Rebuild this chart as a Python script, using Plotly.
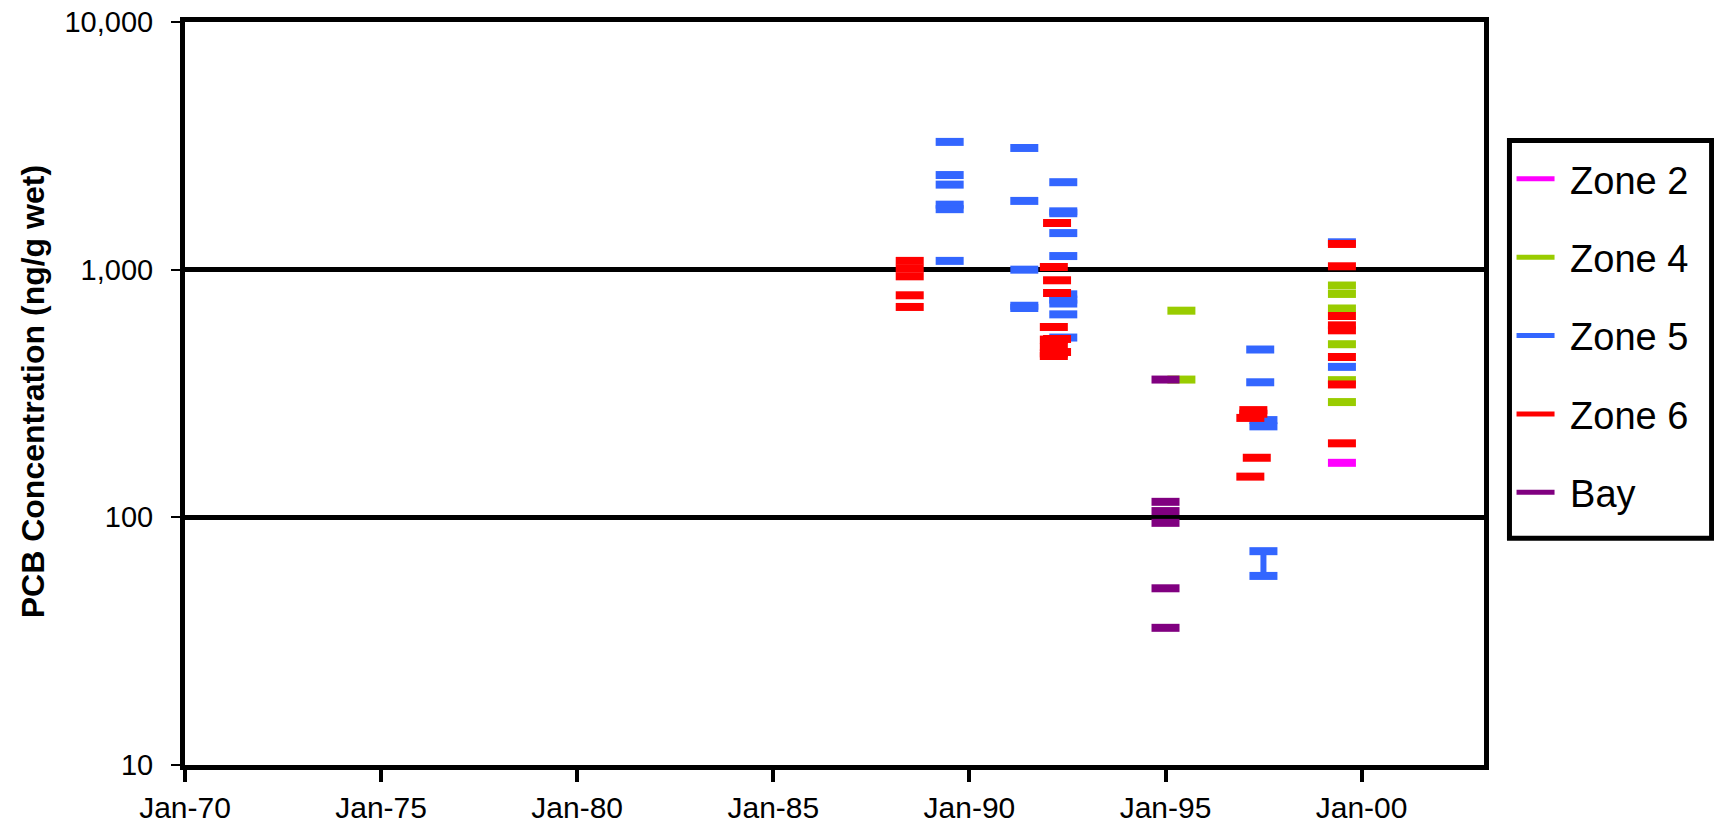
import plotly.graph_objects as go

# ---- data (dates of sampling, PCB concentration ng/g wet) ----
zone2_dates = ["1999-07-02"]
zone2_values = [166]

zone4_dates = ["1995-05-29", "1995-05-29",
               "1999-07-02", "1999-07-02", "1999-07-02", "1999-07-02", "1999-07-02", "1999-07-02"]
zone4_values = [683, 360, 863, 798, 697, 500, 358, 292]

zone5_dates = ["1989-07-01"] * 6 + ["1991-05-27"] * 5 + ["1992-05-24"] * 10 + \
              ["1997-06-01"] * 2 + ["1997-07-01"] * 4 + ["1999-07-02"] * 2
zone5_values = [3280, 2410, 2205, 1830, 1755, 1085,
                3100, 1895, 1000, 715, 700,
                2255, 1720, 1690, 1405, 1135, 795, 757, 730, 660, 532,
                476, 351,
                247, 233, 73, 58,
                1290, 405]
# vertical range bar (Zone 5, mid-1997)
zone5_range_dates = ["1997-07-01", "1997-07-01"]
zone5_range_values = [58, 73]

zone6_dates = ["1988-06-24"] * 5 + ["1992-02-26"] * 6 + ["1992-03-27"] * 5 + \
              ["1997-03-01", "1997-03-01", "1997-03-29", "1997-03-29", "1997-04-30"] + \
              ["1999-07-02"] * 8
zone6_values = [1085, 1010, 940, 788, 707,
                1025, 587, 522, 488, 459, 448,
                1543, 906, 805, 525, 465,
                252, 146, 271, 262, 174,
                1270, 1032, 650, 596, 569, 444, 344, 199]

bay_dates = ["1995-01-01"] * 6
bay_values = [360, 115.5, 106, 95, 51.7, 35.8]

series_names = ["Zone 2", "Zone 4", "Zone 5", "Zone 6", "Bay"]
series_colors = ["#FF00FF", "#99CC00", "#3366FF", "#FF0000", "#800080"]
series_dates = [zone2_dates, zone4_dates, zone5_dates, zone6_dates, bay_dates]
series_values = [zone2_values, zone4_values, zone5_values, zone6_values, bay_values]

x_tick_vals = ["1970-01-01", "1975-01-01", "1980-01-01", "1985-01-01",
               "1990-01-01", "1995-01-01", "2000-01-01"]
x_tick_text = ["Jan-70", "Jan-75", "Jan-80", "Jan-85", "Jan-90", "Jan-95", "Jan-00"]
y_tick_vals = [10, 100, 1000, 10000]
y_tick_text = ["10", "100", "1,000", "10,000"]
y_title = "PCB Concentration (ng/g wet)"

FONT = "Liberation Sans, Arial, sans-serif"

fig = go.Figure()

for name, color, xs, ys in zip(series_names, series_colors, series_dates, series_values):
    if name == "Zone 5":
        fig.add_trace(go.Scatter(
            x=zone5_range_dates, y=zone5_range_values, mode="lines",
            line=dict(color=color, width=6), showlegend=False, hoverinfo="skip"))
    fig.add_trace(go.Scatter(
        x=xs, y=ys, mode="markers", name=name, showlegend=False,
        marker=dict(symbol="line-ew", size=20, color=color,
                    line=dict(color=color, width=8))))

# legend entries (line samples)
for name, color in zip(series_names, series_colors):
    fig.add_trace(go.Scatter(
        x=[None], y=[None], mode="lines", name="\u00a0" + name, legendgroup=name,
        line=dict(color=color, width=5)))

fig.add_annotation(
    text="<b>" + y_title + "</b>", textangle=-90,
    xref="paper", yref="paper", x=-0.117, y=0.5017,
    xanchor="center", yanchor="middle", showarrow=False,
    font=dict(size=32, family=FONT, color="black"))

# legend frame
fig.add_shape(type="rect", xref="paper", yref="paper",
              x0=1.0196, x1=1.1752, y0=0.3053, y1=0.8406,
              line=dict(color="black", width=5), fillcolor="white", layer="above")

fig.update_layout(
    width=1714, height=829,
    paper_bgcolor="white", plot_bgcolor="white",
    margin=dict(l=185, r=230, t=22, b=64, autoexpand=False),
    font=dict(family=FONT, color="black", size=28),
    showlegend=True,
    legend=dict(
        x=1.0212, y=0.831, xanchor="left", yanchor="top",
        bgcolor="rgba(0,0,0,0)", borderwidth=0,
        font=dict(size=38, family=FONT),
        tracegroupgap=26, traceorder="grouped", itemwidth=38),
    xaxis=dict(
        type="date", range=["1970-01-01", "2003-02-14"],
        tickmode="array", tickvals=x_tick_vals, ticktext=x_tick_text,
        tickfont=dict(size=30, family=FONT),
        ticks="outside", ticklen=12, tickwidth=4, tickcolor="black",
        showline=True, linecolor="black", linewidth=5, mirror=True,
        showgrid=False, zeroline=False, automargin=False),
    yaxis=dict(
        type="log", range=[1, 4],
        tickmode="array", tickvals=y_tick_vals, ticktext=y_tick_text,
        tickfont=dict(size=29), ticklabeloverflow="allow",
        ticks="outside", ticklen=9, tickwidth=1.5, tickcolor="black",
        ticklabelstandoff=12,
        showline=True, linecolor="black", linewidth=5, mirror=True,
        showgrid=True, gridcolor="black", gridwidth=5, zeroline=False,
        automargin=False),
)

fig.write_html("out.html", config={"displayModeBar": False},
               post_script="document.body.style.margin='0';")
